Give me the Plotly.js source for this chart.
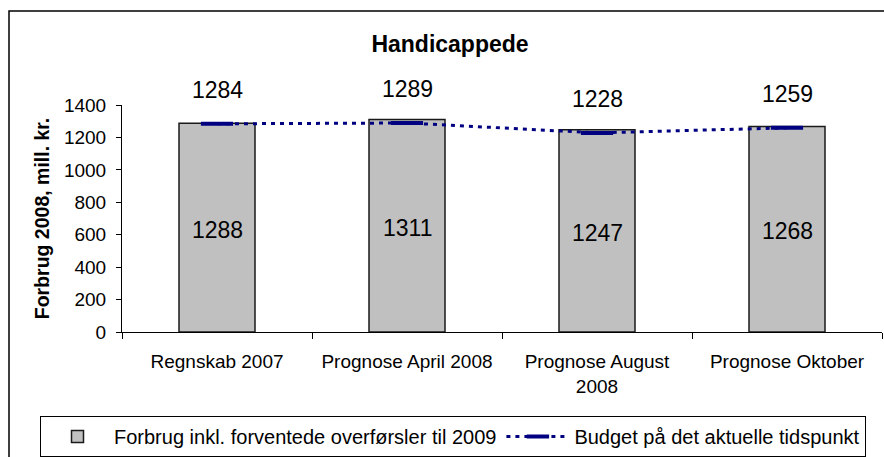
<!DOCTYPE html>
<html>
<head>
<meta charset="utf-8">
<script src="https://cdn.plot.ly/plotly-3.0.1.min.js"></script>
<style>
html,body{margin:0;padding:0;background:#fff;}
#chart{width:884px;height:457px;}
</style>
</head>
<body>
<div id="chart"></div>
<script>
// ---- data ----
const categories = ["Regnskab 2007", "Prognose April 2008", "Prognose August<br>2008", "Prognose Oktober"];
const forbrug = [1288, 1311, 1247, 1268];
const budget = [1284, 1289, 1228, 1259];
const seriesNames = ["Forbrug inkl. forventede overførsler til 2009", "Budget på det aktuelle tidspunkt"];
const chartTitle = "Handicappede";
const yTitle = "Forbrug 2008, mill. kr.";
const yTicks = [0, 200, 400, 600, 800, 1000, 1200, 1400];

const FONT = '"Liberation Sans", Arial, sans-serif';

const traces = [
  {
    type: 'bar',
    name: seriesNames[0],
    x: categories,
    y: forbrug,
    width: 0.4,
    marker: {color: '#c0c0c0', line: {color: '#1a1a1a', width: 1.5}},
    hoverinfo: 'x+y'
  },
  {
    type: 'scatter',
    mode: 'lines+markers',
    name: seriesNames[1],
    x: categories,
    y: budget,
    line: {color: '#000080', width: 3, dash: '4px,5px'},
    marker: {symbol: 'line-ew', size: 23, color: '#000080', line: {color: '#000080', width: 4}},
    hoverinfo: 'x+y'
  }
];

const barLabels = forbrug.map((v, i) => ({
  x: categories[i], y: v / 2, xref: 'x', yref: 'y',
  text: String(v), showarrow: false, yshift: -2,
  font: {family: FONT, size: 23, color: '#000'}
}));
const budgetLabels = budget.map((v, i) => ({
  x: categories[i], y: v, xref: 'x', yref: 'y',
  text: String(v), showarrow: false, yshift: 34,
  font: {family: FONT, size: 23, color: '#000'}
}));

const layout = {
  width: 884, height: 457,
  margin: {l: 122, r: 2, t: 105, b: 125, autoexpand: false},
  paper_bgcolor: '#fff', plot_bgcolor: '#fff',
  font: {family: FONT, color: '#000'},
  showlegend: true,
  title: {
    text: '<b>' + chartTitle + '</b>',
    font: {family: FONT, size: 23, color: '#000'},
    xref: 'container', yref: 'container',
    x: 450 / 884, y: 1 - 44 / 457, xanchor: 'center', yanchor: 'middle'
  },
  xaxis: {
    type: 'category',
    range: [-0.5, 3.5],
    tickson: 'boundaries',
    ticks: 'outside', ticklen: 6, tickcolor: '#000', tickwidth: 1,
    showline: true, linecolor: '#000', linewidth: 1,
    showgrid: false, zeroline: false,
    tickfont: {family: FONT, size: 19, color: '#000'},
    ticklabelstandoff: 12
  },
  xaxis2: {
    overlaying: 'x', anchor: 'y', side: 'bottom',
    range: [-0.5, 3.5],
    tickmode: 'array', tickvals: [-0.5, 0.5, 1.5, 2.5, 3.5],
    ticks: 'inside', ticklen: 6, tickcolor: '#000', tickwidth: 1,
    showticklabels: false, showline: false, showgrid: false, zeroline: false,
    fixedrange: true
  },
  yaxis: {
    range: [0, 1400],
    tickmode: 'array', tickvals: yTicks,
    ticks: 'outside', ticklen: 5, tickcolor: '#000', tickwidth: 1,
    showline: true, linecolor: '#000', linewidth: 1,
    showgrid: false, zeroline: false,
    tickfont: {family: FONT, size: 19, color: '#000'},
    ticklabelstandoff: 6,
    title: {text: '<b>' + yTitle + '</b>', font: {family: FONT, size: 19.5, color: '#000'}, standoff: 9}
  },
  yaxis2: {
    overlaying: 'y', anchor: 'x', side: 'left',
    range: [0, 1400],
    tickmode: 'array', tickvals: yTicks,
    ticks: 'inside', ticklen: 6, tickcolor: '#000', tickwidth: 1,
    showticklabels: false, showline: false, showgrid: false, zeroline: false,
    fixedrange: true
  },
  legend: {
    orientation: 'h',
    x: (40 - 122) / 760, xanchor: 'left',
    y: (332 - 416) / 227, yanchor: 'top',
    bordercolor: '#000', borderwidth: 1,
    bgcolor: '#fff',
    itemwidth: 63,
    font: {family: FONT, size: 20, color: '#000'},
    traceorder: 'normal'
  },
  shapes: [
    {type: 'rect', xref: 'paper', yref: 'paper',
     x0: (9 - 122) / 760, x1: 1.05, y0: -0.7, y1: (332 - 11) / 227,
     line: {color: '#000', width: 1.5}, fillcolor: 'rgba(0,0,0,0)', layer: 'below'}
  ],
  annotations: barLabels.concat(budgetLabels)
};

Plotly.newPlot('chart', traces, layout, {displayModeBar: false, responsive: false});
</script>
</body>
</html>
